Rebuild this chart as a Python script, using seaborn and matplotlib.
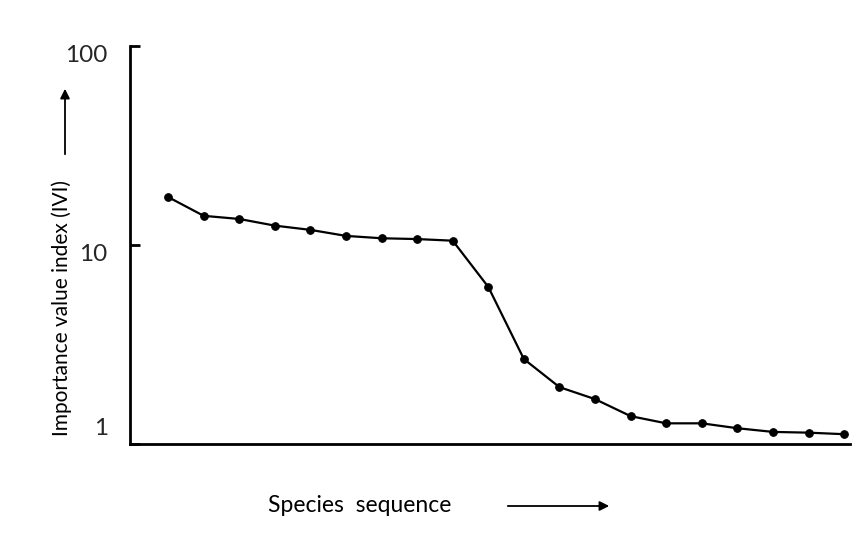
import matplotlib
matplotlib.use("Agg")
import matplotlib.pyplot as plt
import matplotlib.transforms as mtransforms
import seaborn as sns
import pandas as pd

species_rank = list(range(1, 21))
ivi_values = [17.4, 14.0, 13.5, 12.5, 11.9, 11.1, 10.8, 10.7, 10.5, 6.15,
              2.67, 1.93, 1.68, 1.38, 1.27, 1.27, 1.20, 1.15, 1.14, 1.12]
ytick_values = [1, 10, 100]
ytick_labels = ["1", "10", "100"]

df = pd.DataFrame({"rank": species_rank, "ivi": ivi_values})

sns.set_theme(style="white")
plt.rcParams["font.family"] = ["Lato", "DejaVu Sans"]

fig = plt.figure(figsize=(8.61, 5.33), dpi=100)
ax = fig.add_axes([0.151, 0.167, 0.836, 0.747])

sns.lineplot(data=df, x="rank", y="ivi", ax=ax, color="black", linewidth=1.6,
             marker="o", markersize=5.5, markeredgecolor="black",
             markerfacecolor="black")

ax.set_yscale("log")
ax.set_ylim(1, 100)
ax.set_xlim(-0.07, 20.16)
ax.set_yticks(ytick_values)
ax.set_yticklabels(ytick_labels, fontsize=17.5)
ax.minorticks_off()
ax.set_xticks([])
ax.tick_params(axis="y", left=True, direction="in", length=7, width=2,
               color="black", pad=16)

for s in ["top", "right"]:
    ax.spines[s].set_visible(False)
for s in ["left", "bottom"]:
    ax.spines[s].set_color("black")
    ax.spines[s].set_linewidth(2)

# shift tick labels vertically like the reference
labels = ax.get_yticklabels()
offset = mtransforms.ScaledTranslation(0, 0.17, fig.dpi_scale_trans)
labels[0].set_transform(labels[0].get_transform() + offset)
offset2 = mtransforms.ScaledTranslation(0, -0.08, fig.dpi_scale_trans)
labels[1].set_transform(labels[1].get_transform() + offset2)
labels[2].set_transform(labels[2].get_transform() + offset2)

ax.set_xlabel("")
ax.set_ylabel("")

# y axis label and arrow
fig.text(62 / 861, 1 - 308 / 533, "Importance value index (IVI)", rotation=90,
         ha="center", va="center", fontsize=15, color="black")
fig.add_artist(matplotlib.patches.FancyArrowPatch(
    (65 / 861, 1 - 157 / 533), (65 / 861, 1 - 86 / 533),
    transform=fig.transFigure, arrowstyle="-|>", mutation_scale=14,
    color="black", linewidth=1.3))

# x axis label and arrow
fig.text(268 / 861, 1 - 506 / 533, "Species  sequence", ha="left", va="center",
         fontsize=16.5, color="black")
fig.add_artist(matplotlib.patches.FancyArrowPatch(
    (505 / 861, 1 - 506 / 533), (612 / 861, 1 - 506 / 533),
    transform=fig.transFigure, arrowstyle="-|>", mutation_scale=14,
    color="black", linewidth=1.3))

fig.savefig("out.png", dpi=100, facecolor="white")
